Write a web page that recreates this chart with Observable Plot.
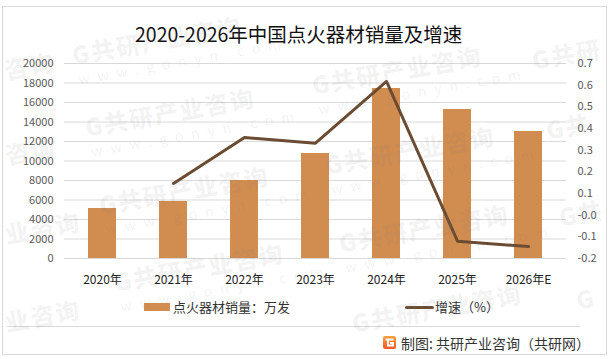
<!DOCTYPE html>
<html><head><meta charset="utf-8">
<script src="https://cdn.jsdelivr.net/npm/d3@7"></script>
<script src="https://cdn.jsdelivr.net/npm/@observablehq/plot@0.6"></script>
<style>
html,body{margin:0;padding:0;background:#fff;overflow:hidden}
#c{position:relative;width:614px;height:359px;overflow:hidden;font-family:"Noto Sans CJK SC","Noto Sans",sans-serif}
#c svg{display:block;position:absolute;left:0;top:0;background:transparent}
.o{position:absolute;white-space:nowrap}
.wm{position:absolute;white-space:nowrap;transform:rotate(-10deg);transform-origin:left top;color:rgba(130,130,130,.09);font-weight:900;font-size:24px;letter-spacing:1.5px;line-height:1}
.ws{position:absolute;white-space:nowrap;transform:rotate(-10deg);transform-origin:left top;color:rgba(130,130,130,.11);font-size:14px;letter-spacing:8px;line-height:1}
</style></head><body><div id="c"></div>
<script>
const years=["2020年","2021年","2022年","2023年","2024年","2025年","2026年E"];
const sales=[5130,5850,8000,10770,17440,15280,13030];
const growth=[null,0.146,0.358,0.332,0.617,-0.12,-0.145];
const leftTicks=d3.range(0,20001,2000);
const rightTicks=[-0.2,-0.1,0,0.1,0.2,0.3,0.4,0.5,0.6,0.7];
const title="2020-2026年中国点火器材销量及增速";
const barName="点火器材销量：万发";
const lineName="增速（%）";
const credit="制图: 共研产业咨询（共研网）";
const wmFull="G共研产业咨询", wwwFull="www.gonyn.com";
const wmSpots=[[70,43],[83,115],[97,193],[112,270],[310,73],[323,153],[337,231]];
const wmParts=[[2,58,"咨询"],[3,143,"咨询"],[3,222,"业咨询"],[3,310,"业咨询"],[530,48,"G共研"],[544,118,"G共"],[557,205,"G共"],[574,288,"G"],[350,311,"G共研产业咨询"]];

const toLeft=v=>(v+0.2)/0.9*20000;
const barData=years.map((y,i)=>({y,v:sales[i]}));
const lineData=years.map((y,i)=>({y,g:growth[i]})).filter(d=>d.g!=null);

const plot=Plot.plot({
  width:614,height:359,
  marginLeft:64,marginRight:48,marginTop:63,marginBottom:101,
  style:{background:"transparent",fontFamily:'"Noto Sans CJK SC","Noto Sans",sans-serif'},
  x:{domain:years,paddingInner:0.6,paddingOuter:0.3,label:null},
  y:{domain:[0,20000],label:null},
  marks:[
    Plot.ruleY(leftTicks,{stroke:"#d9d9d9",strokeWidth:1}),
    Plot.barY(barData,{x:"y",y:"v",fill:"#d18c4f"}),
    Plot.line(lineData,{x:"y",y:d=>toLeft(d.g),stroke:"#6b4c33",strokeWidth:3,curve:"linear"}),
    Plot.axisY({anchor:"left",ticks:leftTicks,tickSize:0,tickPadding:11,fontSize:11,color:"#595959",label:null,tickFormat:d=>String(d)}),
    Plot.axisY(rightTicks.map(toLeft),{anchor:"right",tickSize:0,tickPadding:11,fontSize:11,color:"#595959",label:null,
      tickFormat:d=>(d/20000*0.9-0.2).toFixed(1)}),
    Plot.axisX({tickSize:0,tickPadding:17,fontSize:12,color:"#222",label:null})
  ]
});
const c=document.getElementById("c");
c.appendChild(plot);
function o(css,html,cls){const e=document.createElement("div");e.className=cls||"o";e.style.cssText=css;e.innerHTML=html;c.appendChild(e);return e;}
// frame
o("left:2px;top:6px;width:603px;height:347px;border:1.5px solid #d9d9d9;","");
o("left:7px;top:326px;width:573px;height:1px;background:#d9d9d9;","");
// title
o("left:135px;top:20px;font-size:19.5px;line-height:28px;color:#111;",title);
// legend
o("left:144px;top:303px;width:26px;height:8px;background:#d18c4f;","");
o("left:173px;top:298px;font-size:13px;line-height:18px;color:#333;",barName);
o("left:405px;top:305.5px;width:29px;height:3px;background:#6b4c33;border-radius:2px;","");
o("left:435px;top:298px;font-size:13px;line-height:18px;color:#333;",lineName);
// credit
o("left:401px;top:333px;font-size:14px;line-height:20px;color:#333;",credit);
o("left:383px;top:336px;width:13px;height:13px;",'<svg width="13" height="13" style="position:static"><defs><linearGradient id="lg" x1="0" y1="0" x2="0" y2="1"><stop offset="0" stop-color="#f9a03f"/><stop offset="1" stop-color="#ee5a24"/></linearGradient></defs><rect width="13" height="13" rx="2" fill="url(#lg)"/><path d="M2.5 3.5H10.5M5 3.5V9.5H10V7H7" fill="none" stroke="#fff" stroke-width="1.8"/></svg>');
// watermarks
wmSpots.forEach(([x,y])=>{
  o(`left:${x}px;top:${y}px;`,wmFull,"wm");
  o(`left:${x+7}px;top:${y+29}px;`,wwwFull,"ws");
});
wmParts.forEach(([x,y,t])=>o(`left:${x}px;top:${y}px;`,t,"wm"));
</script></body></html>
